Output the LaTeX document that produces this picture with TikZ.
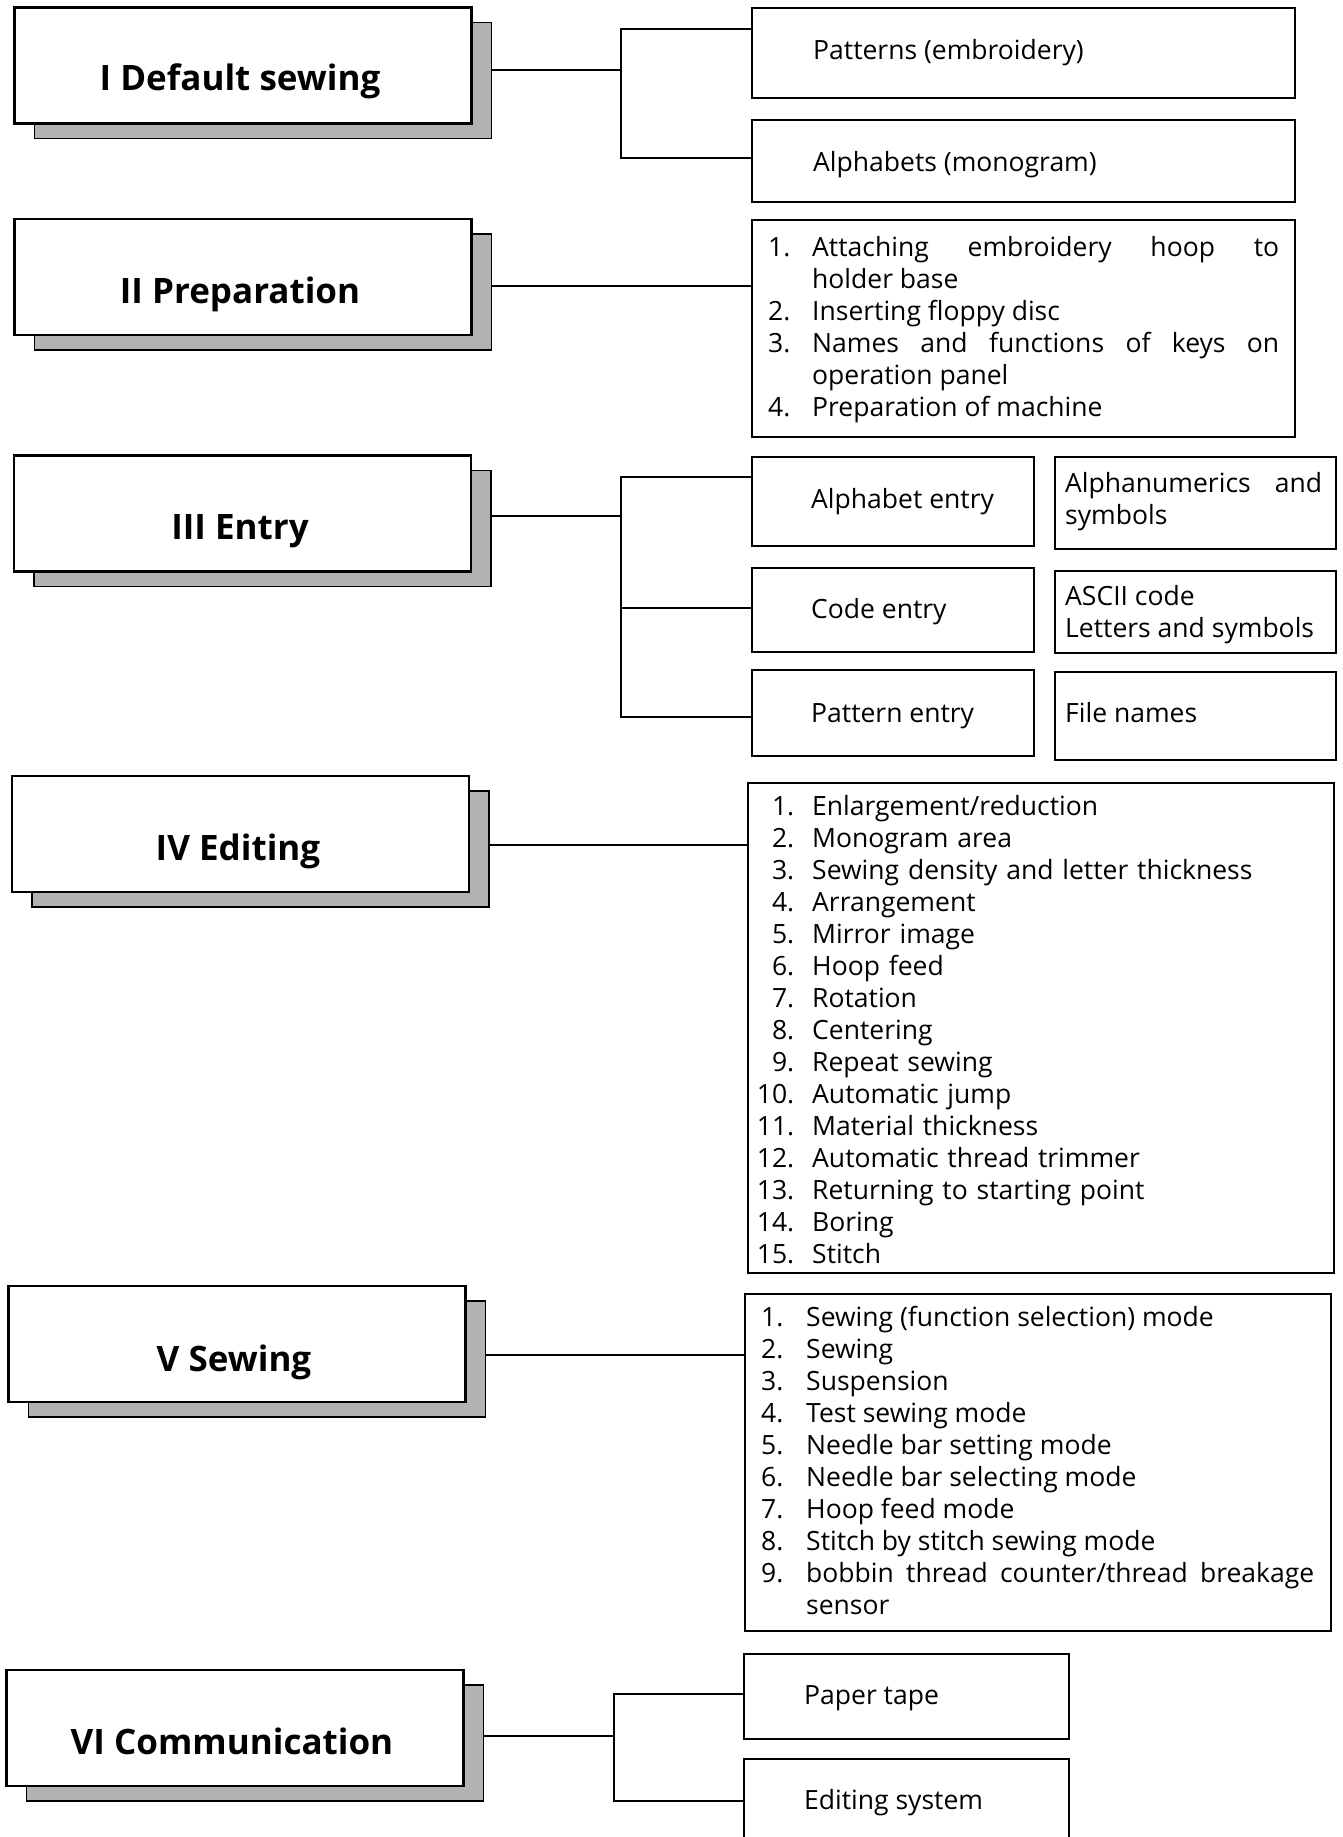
\documentclass[tikz,border=0pt]{standalone}
\usepackage{fontspec}
\setmainfont{Open Sans}
\usetikzlibrary{shadows}
\newcommand\litem[2]{\hangindent=44pt\hangafter=1\noindent\makebox[44pt][l]{#1}#2\par}
\newcommand\litemv[2]{\hangindent=45pt\hangafter=1\noindent\makebox[45pt][l]{#1}#2\par}
\newcommand\litemr[2]{\noindent\makebox[32pt][r]{#1}\hspace{18pt}#2\par}
\begin{document}
\begin{tikzpicture}[x=1pt,y=-1pt,
  title/.style={draw=black, line width=2.2pt, fill=white, minimum width=457pt, minimum height=116pt, inner sep=0pt,
    general shadow={fill=black!30, draw=black, line width=1.8pt, shadow xshift=20pt, shadow yshift=-15pt}},
  ttext/.style={font=\bfseries\fontsize{35}{38}\selectfont, inner sep=0pt, anchor=base},
  box/.style={draw=black, line width=1.8pt, inner sep=0pt},
  btext/.style={font=\fontsize{26.5}{32}\selectfont, inner sep=0pt, anchor=base west},
  ltext/.style={font=\fontsize{26.5}{32}\selectfont, inner sep=0pt, anchor=base west, align=justify},
  conn/.style={line width=1.8pt}]
\useasboundingbox (0,0) rectangle (1342,1837);
\fill[white] (0,0) rectangle (1342,1837);

% ---------- title boxes ----------
\node[title] (t1) at (243,65.5) {};
\node[ttext] (t1x) at (240,90) {I Default sewing};
\node[title] (t2) at (243,277) {};
\node[ttext] (t2x) at (240,303) {II Preparation};
\node[title] (t3) at (242.5,513.5) {};
\node[ttext] (t3x) at (240,539) {III Entry};
\node[title] (t4) at (240.5,834) {};
\node[ttext] (t4x) at (238,860) {IV Editing};
\node[title] (t5) at (237,1344) {};
\node[ttext] (t5x) at (234,1371) {V Sewing};
\node[title] (t6) at (235,1728) {};
\node[ttext] (t6x) at (232,1754) {VI Communication};

% ---------- I ----------
\node[box, minimum width=543pt, minimum height=90pt] (p1) at (1023.5,53) {};
\node[btext] (p1x) at (813,59) {Patterns (embroidery)};
\node[box, minimum width=543pt, minimum height=82pt] (p2) at (1023.5,161) {};
\node[btext] (p2x) at (813,171) {Alphabets (monogram)};
\coordinate (s1) at (492,70);
\coordinate (j1) at (621,70);
\coordinate (j1a) at (621,29);
\coordinate (j1b) at (621,158);
\draw[conn] (s1) -- (j1);
\draw[conn] (p1.west |- j1a) -- (j1a) -- (j1b) -- (p2.west |- j1b);

% ---------- II ----------
\node[box, minimum width=543pt, minimum height=217pt] (l2) at (1023.5,328.5) {};
\node[ltext, text width=511pt] (l2x) at (768,256) {%
\litem{1.}{Attaching embroidery hoop to\linebreak holder base}
\litem{2.}{Inserting floppy disc}
\litem{3.}{Names and functions of keys on\linebreak operation panel}
\litem{4.}{Preparation of machine}};
\coordinate (s2) at (492,286);
\draw[conn] (s2) -- (s2 -| l2.west);

% ---------- III ----------
\node[box, minimum width=282pt, minimum height=89pt] (e1) at (893,501.5) {};
\node[btext] (e1x) at (811,508) {Alphabet entry};
\node[box, minimum width=281pt, minimum height=92pt] (f1) at (1195.5,503) {};
\node[ltext, text width=257pt] (f1x) at (1065,492) {Alphanumerics and\linebreak symbols};
\node[box, minimum width=282pt, minimum height=84pt] (e2) at (893,610) {};
\node[btext] (e2x) at (811,618) {Code entry};
\node[box, minimum width=281pt, minimum height=82pt] (f2) at (1195.5,612) {};
\node[btext, align=left] (f2x) at (1065,637) {ASCII code\\Letters and symbols};
\node[box, minimum width=282pt, minimum height=86pt] (e3) at (893,713) {};
\node[btext] (e3x) at (811,722) {Pattern entry};
\node[box, minimum width=281pt, minimum height=88pt] (f3) at (1195.5,716) {};
\node[btext] (f3x) at (1065,722) {File names};
\coordinate (s3) at (491,516);
\coordinate (j3) at (621,516);
\coordinate (j3a) at (621,477);
\coordinate (j3b) at (621,608);
\coordinate (j3c) at (621,717);
\draw[conn] (s3) -- (j3);
\draw[conn] (e1.west |- j3a) -- (j3a) -- (j3c) -- (e3.west |- j3c);
\draw[conn] (j3b) -- (e2.west |- j3b);

% ---------- IV ----------
\node[box, minimum width=586pt, minimum height=490pt] (l4) at (1041,1028) {};
\node[ltext, text width=560pt, align=left] (l4x) at (762,815) {%
\litemr{1.}{Enlargement/reduction}
\litemr{2.}{Monogram area}
\litemr{3.}{Sewing density and letter thickness}
\litemr{4.}{Arrangement}
\litemr{5.}{Mirror image}
\litemr{6.}{Hoop feed}
\litemr{7.}{Rotation}
\litemr{8.}{Centering}
\litemr{9.}{Repeat sewing}
\litemr{10.}{Automatic jump}
\litemr{11.}{Material thickness}
\litemr{12.}{Automatic thread trimmer}
\litemr{13.}{Returning to starting point}
\litemr{14.}{Boring}
\litemr{15.}{Stitch}};
\coordinate (s4) at (489,845);
\draw[conn] (s4) -- (s4 -| l4.west);

% ---------- V ----------
\node[box, minimum width=586pt, minimum height=337pt] (l5) at (1038,1462.5) {};
\node[ltext, text width=553pt] (l5x) at (761,1326) {%
\litemv{1.}{Sewing (function selection) mode}
\litemv{2.}{Sewing}
\litemv{3.}{Suspension}
\litemv{4.}{Test sewing mode}
\litemv{5.}{Needle bar setting mode}
\litemv{6.}{Needle bar selecting mode}
\litemv{7.}{Hoop feed mode}
\litemv{8.}{Stitch by stitch sewing mode}
\litemv{9.}{bobbin thread counter/thread breakage\linebreak sensor}};
\coordinate (s5) at (485,1355);
\draw[conn] (s5) -- (s5 -| l5.west);

% ---------- VI ----------
\node[box, minimum width=325pt, minimum height=85pt] (c1) at (906.5,1696.5) {};
\node[btext] (c1x) at (804,1704) {Paper tape};
\node[box, minimum width=325pt, minimum height=101pt] (c2) at (906.5,1809.5) {};
\node[btext] (c2x) at (804,1809) {Editing system};
\coordinate (s6) at (483,1736);
\coordinate (j6) at (614,1736);
\coordinate (j6a) at (614,1694);
\coordinate (j6b) at (614,1801);
\draw[conn] (s6) -- (j6);
\draw[conn] (c1.west |- j6a) -- (j6a) -- (j6b) -- (c2.west |- j6b);
\end{tikzpicture}
\end{document}
